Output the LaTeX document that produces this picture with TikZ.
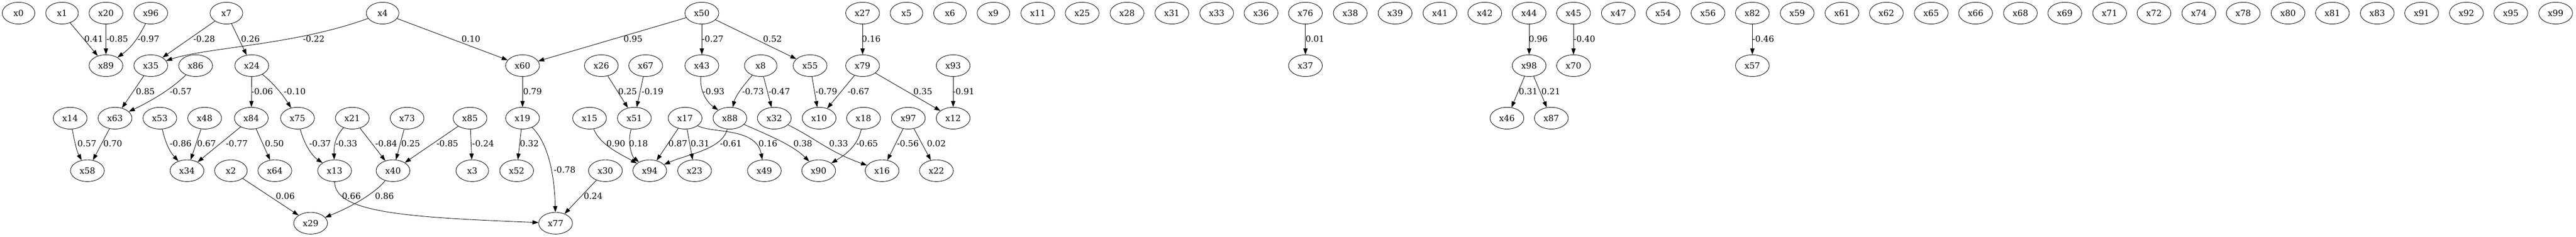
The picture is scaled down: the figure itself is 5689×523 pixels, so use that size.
\documentclass[tikz,border=0pt]{standalone}
\usepackage{fontspec}
\setmainfont{DejaVu Serif}
\usetikzlibrary{shapes.geometric,arrows.meta}
\tikzset{
  v/.style={draw,ellipse,line width=0.75pt,minimum width=54pt,minimum height=36pt,inner sep=0pt},
  vv/.style={v,minimum width=56pt},
  e/.style={draw,line width=0.75pt,-{Triangle[length=10pt,width=7pt]}},
  lb/.style={inner sep=0pt,anchor=center}
}
\begin{document}
\begin{tikzpicture}[x=0.75pt,y=-0.75pt,font=\fontsize{14pt}{17pt}\selectfont]
\useasboundingbox (0,0) rectangle (5689,523);
% row 1
\node[v]  (x0)  at (41,29)   {x0};
\node[v]  (x1)  at (137,29)  {x1};
\node[vv] (x20) at (234,29)  {x20};
\node[vv] (x96) at (333,29)  {x96};
\node[v]  (x7)  at (500,29)  {x7};
\node[v]  (x4)  at (845,29)  {x4};
\node[vv] (x50) at (1550,29) {x50};
\node[vv] (x27) at (1905,29) {x27};
\node[v]  (x5)  at (2002,29) {x5};
\node[v]  (x6)  at (2098,29) {x6};
\node[v]  (x9)  at (2194,29) {x9};
\node[vv] (x11) at (2292,29) {x11};
\node[vv] (x25) at (2390,29) {x25};
\node[vv] (x28) at (2489,29) {x28};
\node[vv] (x31) at (2588,29) {x31};
\node[vv] (x33) at (2687,29) {x33};
\node[vv] (x36) at (2785,29) {x36};
\node[vv] (x76) at (2883,29) {x76};
\node[vv] (x38) at (2982,29) {x38};
\node[vv] (x39) at (3081,29) {x39};
\node[vv] (x41) at (3180,29) {x41};
\node[vv] (x42) at (3279,29) {x42};
\node[vv] (x44) at (3377,29) {x44};
\node[vv] (x45) at (3475,29) {x45};
\node[vv] (x47) at (3574,29) {x47};
\node[vv] (x54) at (3673,29) {x54};
\node[vv] (x56) at (3772,29) {x56};
\node[vv] (x82) at (3870,29) {x82};
\node[vv] (x59) at (3969,29) {x59};
\node[vv] (x61) at (4068,29) {x61};
\node[vv] (x62) at (4166,29) {x62};
\node[vv] (x65) at (4265,29) {x65};
\node[vv] (x66) at (4363,29) {x66};
\node[vv] (x68) at (4462,29) {x68};
\node[vv] (x69) at (4560,29) {x69};
\node[vv] (x71) at (4659,29) {x71};
\node[vv] (x72) at (4757,29) {x72};
\node[vv] (x74) at (4856,29) {x74};
\node[vv] (x78) at (4954,29) {x78};
\node[vv] (x80) at (5053,29) {x80};
\node[vv] (x81) at (5151,29) {x81};
\node[vv] (x83) at (5250,29) {x83};
\node[vv] (x91) at (5348,29) {x91};
\node[vv] (x92) at (5447,29) {x92};
\node[vv] (x95) at (5545,29) {x95};
\node[vv] (x99) at (5644,29) {x99};
% row 2
\node[vv] (x89) at (234,145)  {x89};
\node[vv] (x35) at (333,145)  {x35};
\node[vv] (x86) at (432,145)  {x86};
\node[vv] (x24) at (556,145)  {x24};
\node[vv] (x60) at (1154,145) {x60};
\node[vv] (x26) at (1328,145) {x26};
\node[vv] (x67) at (1426,145) {x67};
\node[vv] (x43) at (1550,145) {x43};
\node[v]  (x8)  at (1680,145) {x8};
\node[vv] (x55) at (1789,145) {x55};
\node[vv] (x79) at (1905,145) {x79};
\node[vv] (x93) at (2105,145) {x93};
\node[vv] (x37) at (2883,145) {x37};
\node[vv] (x98) at (3377,145) {x98};
\node[vv] (x70) at (3475,145) {x70};
\node[vv] (x57) at (3870,145) {x57};
% row 3
\node[vv] (x14) at (155,261)  {x14};
\node[vv] (x63) at (254,261)  {x63};
\node[vv] (x53) at (353,261)  {x53};
\node[vv] (x48) at (452,261)  {x48};
\node[vv] (x84) at (555,261)  {x84};
\node[vv] (x75) at (657,261)  {x75};
\node[vv] (x21) at (778,261)  {x21};
\node[vv] (x73) at (899,261)  {x73};
\node[vv] (x85) at (1038,261) {x85};
\node[vv] (x19) at (1154,261) {x19};
\node[vv] (x15) at (1302,261) {x15};
\node[vv] (x51) at (1401,261) {x51};
\node[vv] (x17) at (1513,261) {x17};
\node[vv] (x88) at (1612,261) {x88};
\node[vv] (x32) at (1710,261) {x32};
\node[vv] (x10) at (1809,261) {x10};
\node[vv] (x18) at (1907,261) {x18};
\node[vv] (x97) at (2006,261) {x97};
\node[vv] (x12) at (2105,261) {x12};
\node[vv] (x46) at (3328,261) {x46};
\node[vv] (x87) at (3426,261) {x87};
% row 4
\node[vv] (x58) at (193,377)  {x58};
\node[vv] (x34) at (413,377)  {x34};
\node[v]  (x2)  at (510,377)  {x2};
\node[vv] (x64) at (607,377)  {x64};
\node[vv] (x13) at (739,377)  {x13};
\node[vv] (x40) at (868,377)  {x40};
\node[v]  (x3)  at (1043,377) {x3};
\node[vv] (x52) at (1141,377) {x52};
\node[vv] (x30) at (1337,377) {x30};
\node[vv] (x94) at (1435,377) {x94};
\node[vv] (x23) at (1534,377) {x23};
\node[vv] (x49) at (1688,377) {x49};
\node[vv] (x90) at (1808,377) {x90};
\node[vv] (x16) at (1948,377) {x16};
\node[vv] (x22) at (2068,377) {x22};
% row 5
\node[vv] (x29) at (686,493)  {x29};
\node[vv] (x77) at (1227,493) {x77};

% edges
\draw[e] (x1) -- (x89);
\draw[e] (x20) -- (x89);
\draw[e] (x96) .. controls (305,85) and (290,105) .. (x89);
\draw[e] (x7) -- (x35);
\draw[e] (x4) .. controls (650,100) and (460,104) .. (x35);
\draw[e] (x7) -- (x24);
\draw[e] (x4) -- (x60);
\draw[e] (x50) -- (x60);
\draw[e] (x35) -- (x63);
\draw[e] (x86) .. controls (380,195) and (340,220) .. (x63);
\draw[e] (x14) .. controls (165,315) and (170,335) .. (x58);
\draw[e] (x63) -- (x58);
\draw[e] (x53) .. controls (365,315) and (375,335) .. (x34);
\draw[e] (x48) -- (x34);
\draw[e] (x84) -- (x34);
\draw[e] (x24) -- (x84);
\draw[e] (x24) .. controls (605,185) and (625,210) .. (x75);
\draw[e] (x84) -- (x64);
\draw[e] (x75) .. controls (672,320) and (690,345) .. (x13);
\draw[e] (x21) .. controls (742,300) and (737,320) .. (x13);
\draw[e] (x21) -- (x40);
\draw[e] (x73) -- (x40);
\draw[e] (x85) -- (x40);
\draw[e] (x85) -- (x3);
\draw[e] (x2) -- (x29);
\draw[e] (x40) .. controls (830,425) and (780,455) .. (x29);
\draw[e] (x13) .. controls (739,470) and (900,480) .. (x77);
\draw[e] (x60) -- (x19);
\draw[e] (x19) -- (x52);
\draw[e] (x19) .. controls (1215,320) and (1225,400) .. (x77);
\draw[e] (x30) -- (x77);
\draw[e] (x26) -- (x51);
\draw[e] (x67) -- (x51);
\draw[e] (x15) .. controls (1325,320) and (1370,340) .. (x94);
\draw[e] (x51) .. controls (1385,315) and (1395,345) .. (x94);
\draw[e] (x17) -- (x94);
\draw[e] (x88) .. controls (1595,330) and (1520,340) .. (x94);
\draw[e] (x17) -- (x23);
\draw[e] (x17) .. controls (1570,295) and (1670,280) .. (x49);
\draw[e] (x50) -- (x43);
\draw[e] (x50) -- (x55);
\draw[e] (x43) .. controls (1545,200) and (1560,225) .. (x88);
\draw[e] (x8) .. controls (1645,185) and (1625,210) .. (x88);
\draw[e] (x8) -- (x32);
\draw[e] (x88) .. controls (1700,300) and (1750,320) .. (x90);
\draw[e] (x32) .. controls (1800,305) and (1830,335) .. (x16);
\draw[e] (x18) .. controls (1895,320) and (1870,340) .. (x90);
\draw[e] (x55) -- (x10);
\draw[e] (x79) -- (x10);
\draw[e] (x27) -- (x79);
\draw[e] (x79) -- (x12);
\draw[e] (x93) -- (x12);
\draw[e] (x97) -- (x16);
\draw[e] (x97) -- (x22);
\draw[e] (x76) -- (x37);
\draw[e] (x44) -- (x98);
\draw[e] (x98) -- (x46);
\draw[e] (x98) -- (x87);
\draw[e] (x45) -- (x70);
\draw[e] (x82) -- (x57);

% labels
\node[lb] (l1)  at (207,86)  {0.41};
\node[lb] (l2)  at (259,86)  {-0.85};
\node[lb] (l3)  at (328,86)  {-0.97};
\node[lb] (l4)  at (451,86)  {-0.28};
\node[lb] (l5)  at (553,86)  {0.26};
\node[lb] (l6)  at (693,86)  {-0.22};
\node[lb] (l7)  at (1040,86) {0.10};
\node[lb] (l8)  at (1398,86) {0.95};
\node[lb] (l9)  at (1574,86) {-0.27};
\node[lb] (l10) at (1706,86) {0.52};
\node[lb] (l11) at (1924,86) {0.16};
\node[lb] (l12) at (2904,86) {0.01};
\node[lb] (l13) at (3397,86) {0.96};
\node[lb] (l14) at (3499,86) {-0.40};
\node[lb] (l15) at (3894,86) {-0.46};
\node[lb] (l16) at (321,202)  {0.85};
\node[lb] (l17) at (399,202)  {-0.57};
\node[lb] (l18) at (579,202)  {-0.06};
\node[lb] (l19) at (651,202)  {-0.10};
\node[lb] (l20) at (1176,202) {0.79};
\node[lb] (l21) at (1386,202) {0.25};
\node[lb] (l22) at (1441,202) {-0.19};
\node[lb] (l23) at (1576,202) {-0.93};
\node[lb] (l24) at (1663,202) {-0.73};
\node[lb] (l25) at (1721,202) {-0.47};
\node[lb] (l26) at (1825,202) {-0.79};
\node[lb] (l27) at (1896,202) {-0.67};
\node[lb] (l28) at (2038,202) {0.35};
\node[lb] (l29) at (2128,202) {-0.91};
\node[lb] (l30) at (3375,202) {0.31};
\node[lb] (l31) at (3425,202) {0.21};
\node[lb] (l32) at (192,317)  {0.57};
\node[lb] (l33) at (249,317)  {0.70};
\node[lb] (l34) at (399,317)  {-0.86};
\node[lb] (l35) at (456,317)  {0.67};
\node[lb] (l36) at (523,317)  {-0.77};
\node[lb] (l37) at (606,317)  {0.50};
\node[lb] (l38) at (707,317)  {-0.37};
\node[lb] (l39) at (765,317)  {-0.33};
\node[lb] (l40) at (853,317)  {-0.84};
\node[lb] (l41) at (907,317)  {0.25};
\node[lb] (l42) at (988,317)  {-0.85};
\node[lb] (l43) at (1067,317) {-0.24};
\node[lb] (l44) at (1169,317) {0.32};
\node[lb] (l45) at (1360,317) {0.90};
\node[lb] (l46) at (1410,317) {0.18};
\node[lb] (l47) at (1497,317) {0.87};
\node[lb] (l48) at (1546,317) {0.31};
\node[lb] (l49) at (1614,317) {-0.61};
\node[lb] (l50) at (1696,317) {0.16};
\node[lb] (l51) at (1773,317) {0.38};
\node[lb] (l52) at (1852,317) {0.33};
\node[lb] (l53) at (1915,317) {-0.65};
\node[lb] (l54) at (2005,317) {-0.56};
\node[lb] (l55) at (2068,317) {0.02};
\node[lb] (l56) at (1247,375) {-0.78};
\node[lb] (l57) at (630,433)  {0.06};
\node[lb] (l58) at (776,433)  {0.66};
\node[lb] (l59) at (849,433)  {0.86};
\node[lb] (l60) at (1310,433) {0.24};
\end{tikzpicture}
\end{document}
